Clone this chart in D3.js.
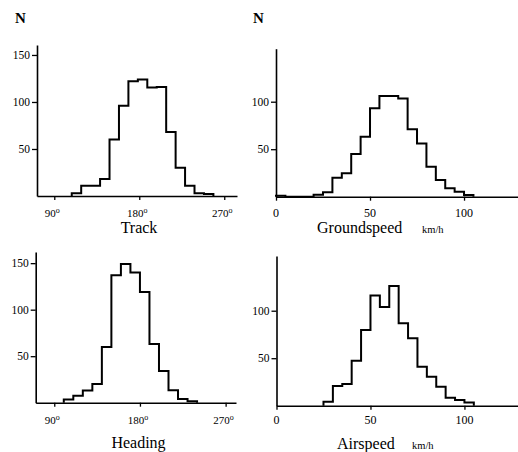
<!DOCTYPE html>
<html>
<head>
<meta charset="utf-8">
<script src="https://cdn.jsdelivr.net/npm/d3@7"></script>
<style>
  html, body { margin: 0; padding: 0; background: #fff; }
  svg { display: block; }
  text { font-family: "Liberation Serif", "Times New Roman", serif; fill: #000; }
</style>
</head>
<body>
<script>
// ---------------- DATA ----------------
// Track (degrees), 10-degree bins: left edges and counts
const trackEdges  = [108.5, 118.5, 128.5, 138.5, 148.5, 158.5, 168.5, 178.5, 188.5, 198.5, 208.5, 218.5, 228.5, 238.5, 248.5];
const trackCounts = [3, 11, 11, 18, 60, 96, 122, 124, 115.5, 116, 68, 30, 11, 3, 2];
const trackBinWidth = 10;

// Heading (degrees), 10-degree bins
const headingEdges  = [100, 110, 120, 130, 140, 150, 160, 170, 180, 190, 200, 210, 220, 230];
const headingCounts = [3.5, 7.5, 13, 20, 60, 137, 149, 140, 119, 63, 34, 13.5, 4, 1.5];
const headingBinWidth = 10;

// Groundspeed (km/h), 5 km/h bins
const groundEdges  = [0, 5, 10, 15, 20, 25, 30, 35, 40, 45, 50, 55, 60, 65, 70, 75, 80, 85, 90, 95, 100];
const groundCounts = [1, 0, 0, 0, 2, 4.6, 20, 24.6, 45, 63, 93, 106, 106, 103.5, 71, 56, 31.6, 17.6, 8.8, 5.3, 1.8];
const groundBinWidth = 5;

// Airspeed (km/h), 5 km/h bins
const airEdges  = [25, 30, 35, 40, 45, 50, 55, 60, 65, 70, 75, 80, 85, 90, 95, 100];
const airCounts = [4.2, 20.7, 22.8, 47.4, 79.7, 116, 104, 126, 86.7, 71, 41, 30.5, 20, 8.4, 6, 3.5];
const airBinWidth = 5;

// Tick labels
const angleTicks = [90, 180, 270];
const speedTicks = [0, 50, 100];
const countTicksAngle = [50, 100, 150];
const countTicksSpeed = [50, 100];

const titles = ["Track", "Groundspeed", "Heading", "Airspeed"];
const unitLabel = "km/h";
const countLabel = "N";

// ---------------- LAYOUT ----------------
const W = 518, H = 452;
const svg = d3.select("body").append("svg").attr("width", W).attr("height", H);

const panels = [
  { edges: trackEdges, counts: trackCounts, bw: trackBinWidth,
    xDom: [71.7, 283.5], xRange: [37, 237], yDom: [0, 160.6], yRange: [196, 45],
    xTicks: angleTicks, yTicks: countTicksAngle, deg: true,
    title: titles[0], titleX: 139, titleY: 233, unit: false, labelDy: 21 },
  { edges: groundEdges, counts: groundCounts, bw: groundBinWidth,
    xDom: [0, 128.7], xRange: [276, 518], yDom: [0, 155.8], yRange: [196.7, 48.7],
    xTicks: speedTicks, yTicks: countTicksSpeed, deg: false,
    title: titles[1], titleX: 317, titleY: 233, unit: true, unitX: 422, labelDy: 20.5 },
  { edges: headingEdges, counts: headingCounts, bw: headingBinWidth,
    xDom: [70.5, 280.9], xRange: [35.7, 236], yDom: [0, 162], yRange: [402.7, 252],
    xTicks: angleTicks, yTicks: countTicksAngle, deg: true,
    title: titles[2], titleX: 138.5, titleY: 447.5, unit: false, labelDy: 21 },
  { edges: airEdges, counts: airCounts, bw: airBinWidth,
    xDom: [0, 128.5], xRange: [276.5, 518], yDom: [0, 157.6], yRange: [405.7, 256],
    xTicks: speedTicks, yTicks: countTicksSpeed, deg: false,
    title: titles[3], titleX: 337, titleY: 449, unit: true, unitX: 412, labelDy: 18 }
];

panels.forEach(p => {
  const x = d3.scaleLinear().domain(p.xDom).range(p.xRange);
  const y = d3.scaleLinear().domain(p.yDom).range(p.yRange);
  const g = svg.append("g");

  // Histogram outline (step)
  const pts = [[p.edges[0], 0]];
  p.edges.forEach((e, i) => pts.push([e, p.counts[i]]));
  pts.push([p.edges[p.edges.length - 1] + p.bw, 0]);
  const line = d3.line().x(d => x(d[0])).y(d => y(d[1])).curve(d3.curveStepAfter);
  g.append("path").attr("d", line(pts))
    .attr("fill", "none").attr("stroke", "#000").attr("stroke-width", 2)
    .attr("stroke-linejoin", "miter");

  // X axis
  const xAxis = d3.axisBottom(x).tickValues(p.xTicks).tickSize(4).tickSizeOuter(0).tickFormat("");
  const xg = g.append("g").attr("transform", `translate(0,${p.yRange[0]})`).call(xAxis);
  xg.select(".domain").attr("stroke", "#000").attr("stroke-width", 1.6);
  xg.selectAll(".tick line").attr("stroke", "#000").attr("stroke-width", 1.3);

  // X tick labels
  p.xTicks.forEach(t => {
    const tx = g.append("text")
      .attr("x", x(t) - (p.deg ? 2 : 0))
      .attr("y", p.yRange[0] + p.labelDy)
      .attr("text-anchor", "middle")
      .attr("font-size", p.deg ? 11 : 12);
    tx.append("tspan").text(t);
    if (p.deg) {
      tx.append("tspan").text("o").attr("font-size", 8).attr("dy", -4);
    }
  });

  // Y axis
  const yAxis = d3.axisLeft(y).tickValues(p.yTicks).tickSize(5).tickSizeOuter(0).tickFormat("");
  const yg = g.append("g").attr("transform", `translate(${p.xRange[0]},0)`).call(yAxis);
  yg.select(".domain").attr("stroke", "#000").attr("stroke-width", 1.6);
  yg.selectAll(".tick line").attr("stroke", "#000").attr("stroke-width", 1.3);

  p.yTicks.forEach(t => {
    g.append("text")
      .attr("x", p.xRange[0] - 7)
      .attr("y", y(t))
      .attr("dy", "0.35em")
      .attr("text-anchor", "end")
      .attr("font-size", 11.5)
      .text(t);
  });

  // Title
  const title = g.append("text")
    .attr("x", p.titleX).attr("y", p.titleY)
    .attr("font-size", 16)
    .attr("text-anchor", p.unit ? "start" : "middle")
    .text(p.title);
  if (p.unit) {
    g.append("text")
      .attr("x", p.unitX).attr("y", p.titleY)
      .attr("font-size", 10.5)
      .text(unitLabel);
  }
});

// "N" labels
[[15, 23], [253, 23]].forEach(pos => {
  svg.append("text")
    .attr("x", pos[0]).attr("y", pos[1])
    .attr("font-size", 15).attr("font-weight", "bold")
    .text(countLabel);
});
</script>
</body>
</html>
